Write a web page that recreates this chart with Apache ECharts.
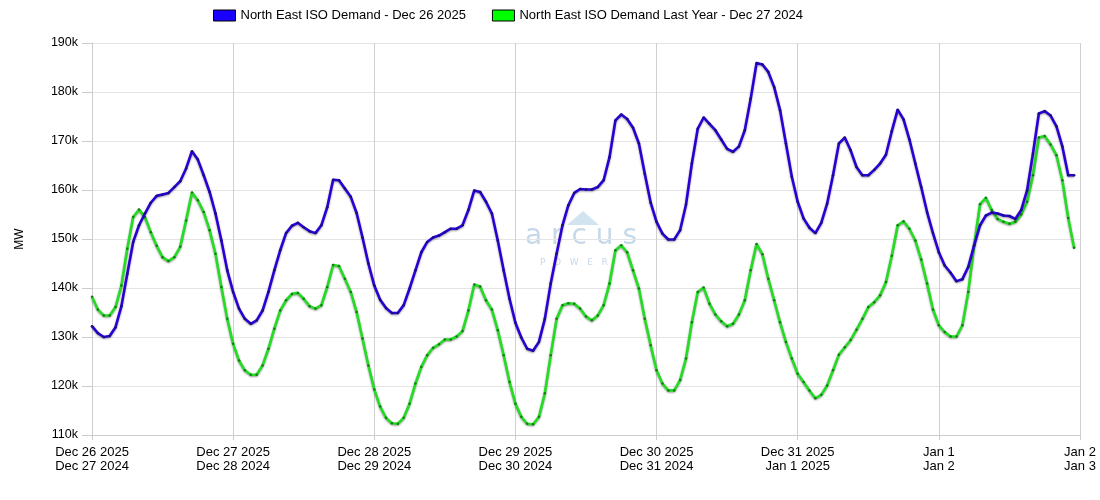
<!DOCTYPE html>
<html>
<head>
<meta charset="utf-8">
<script src="https://cdn.jsdelivr.net/npm/echarts@6/dist/echarts.min.js"></script>
<style>
html,body{margin:0;padding:0;background:#fff;}
#chart{width:1100px;height:500px;}
</style>
</head>
<body>
<div id="chart"></div>
<script>
// Hourly demand (thousand MW), starting Dec 26 2025 00:00
const demand2025 = [
132.2,130.8,130.0,130.2,132.0,136.3,142.9,149.4,152.8,155.2,157.4,158.8,159.1,159.4,160.6,161.8,164.4,167.9,166.2,163.0,159.6,155.2,149.7,143.6,
139.2,135.8,133.7,132.7,133.4,135.4,139.2,143.6,147.7,151.2,152.7,153.3,152.4,151.6,151.2,152.8,156.5,162.1,162.0,160.3,158.6,155.3,150.3,145.0,
140.5,137.6,135.9,134.9,134.9,136.5,139.9,143.6,147.3,149.4,150.3,150.7,151.4,152.1,152.1,152.8,155.9,159.9,159.6,157.6,155.2,149.7,143.6,137.8,
132.9,129.9,127.6,127.2,129.0,133.7,140.9,147.0,152.8,156.9,159.4,160.2,160.1,160.1,160.6,162.0,166.7,174.2,175.4,174.5,172.7,169.5,163.3,157.4,
153.5,151.1,149.9,149.9,151.8,157.0,165.4,172.5,174.8,173.5,172.2,170.3,168.4,167.8,168.9,172.2,178.6,185.9,185.6,184.1,181.0,176.3,169.5,162.7,
157.6,154.2,152.3,151.2,153.3,157.2,163.0,169.5,170.7,168.1,164.7,163.0,163.0,164.1,165.4,167.2,172.0,176.4,174.4,170.3,165.4,160.6,155.5,151.2,
147.3,144.6,143.1,141.4,141.8,144.3,148.7,152.8,154.8,155.4,155.2,154.8,154.7,154.1,155.9,159.9,167.4,175.6,176.1,175.2,173.0,168.9,163.0,163.0
];
// Hourly demand (thousand MW), starting Dec 27 2024 00:00
const demand2024 = [
138.2,135.6,134.4,134.4,136.1,140.5,148.0,154.5,156.0,154.5,151.4,148.6,146.3,145.5,146.3,148.4,153.8,159.5,157.9,155.5,151.8,147.0,140.2,133.7,
128.6,125.2,123.2,122.3,122.3,124.2,127.6,131.7,135.4,137.5,138.8,139.0,137.8,136.3,135.8,136.5,140.2,144.7,144.5,141.9,139.2,135.1,129.7,124.2,
119.3,115.8,113.5,112.4,112.3,113.5,116.4,120.5,123.9,126.3,127.8,128.5,129.5,129.5,130.1,131.2,135.4,140.7,140.3,137.5,135.6,131.4,126.3,120.8,
116.4,113.7,112.3,112.2,113.7,118.5,126.3,133.7,136.5,136.9,136.8,135.8,134.2,133.4,134.4,136.5,140.9,147.7,148.7,147.3,143.6,139.9,133.7,128.3,
123.2,120.5,119.1,119.1,121.2,125.6,133.0,139.2,140.1,136.8,134.6,133.2,132.2,132.7,134.6,137.5,143.6,149.0,146.9,141.9,137.5,133.0,129.0,125.6,
122.5,120.8,119.1,117.5,118.2,120.1,123.2,126.4,127.9,129.4,131.5,133.7,136.1,137.1,138.5,141.2,146.6,152.8,153.6,152.1,149.7,145.8,140.9,135.6,
132.4,131.0,130.1,130.1,132.4,139.2,148.7,157.1,158.4,155.9,154.1,153.5,153.1,153.5,155.0,157.6,163.0,170.7,171.0,169.3,167.1,162.0,154.3,148.2
];
const xTickLabels = [
  'Dec 26 2025\nDec 27 2024',
  'Dec 27 2025\nDec 28 2024',
  'Dec 28 2025\nDec 29 2024',
  'Dec 29 2025\nDec 30 2024',
  'Dec 30 2025\nDec 31 2024',
  'Dec 31 2025\nJan 1 2025',
  'Jan 1\nJan 2',
  'Jan 2\nJan 3'
];
const seriesNames = [
  'North East ISO Demand - Dec 26 2025',
  'North East ISO Demand Last Year - Dec 27 2024'
];

const chart = echarts.init(document.getElementById('chart'), null, {renderer: 'canvas'});
const toPts = arr => arr.map((v, i) => [i, v]);
const font = 'Liberation Sans, Arial, sans-serif';

chart.setOption({
  animation: false,
  backgroundColor: '#fff',
  textStyle: {fontFamily: font},
  grid: {left: 92, right: 20, top: 43, bottom: 65},
  legend: {
    left: 208, top: 4,
    itemWidth: 22, itemHeight: 11, itemGap: 26,
    textStyle: {fontSize: 13, color: '#000', fontFamily: font},
    data: [
      {name: seriesNames[0], icon: 'rect', itemStyle: {color: '#1a00ff', borderColor: '#000', borderWidth: 1}},
      {name: seriesNames[1], icon: 'rect', itemStyle: {color: '#00ff00', borderColor: '#000', borderWidth: 1}}
    ]
  },
  graphic: [
    {type: 'polygon', silent: true, z: 0,
      shape: {points: [[583, 211], [599, 225], [567, 225]]},
      style: {fill: '#d3e4f1'}},
    {type: 'text', silent: true, z: 0, left: 525, top: 223,
      style: {text: 'a r c u s', font: '28px "DejaVu Sans", sans-serif', fill: '#c6d9ea'}},
    {type: 'text', silent: true, z: 0, left: 540, top: 258,
      style: {text: 'P   O   W   E   R', font: '9px "DejaVu Sans", sans-serif', fill: '#c6d9ea'}}
  ],
  xAxis: {
    type: 'value', min: 0, max: 168, interval: 24,
    axisLine: {show: true, lineStyle: {color: '#ccc'}},
    axisTick: {show: true, length: 5, lineStyle: {color: '#ccc'}},
    splitLine: {show: true, lineStyle: {color: '#d0d0d0'}},
    axisLabel: {
      color: '#000', fontSize: 13, lineHeight: 14, margin: 10, fontFamily: font,
      showMinLabel: true, showMaxLabel: true,
      formatter: v => xTickLabels[Math.round(v / 24)] || ''
    }
  },
  yAxis: {
    type: 'value', min: 110, max: 190, interval: 10,
    name: 'MW', nameLocation: 'middle', nameGap: 66,
    nameTextStyle: {color: '#000', fontSize: 12, fontFamily: font},
    axisLine: {show: true, lineStyle: {color: '#ccc'}},
    axisTick: {show: true, length: 10, lineStyle: {color: '#ccc'}},
    splitLine: {show: true, lineStyle: {color: '#e4e4e4'}},
    axisLabel: {color: '#000', fontSize: 12.5, margin: 14, fontFamily: font, formatter: v => v + 'k'}
  },
  series: [
    {
      name: seriesNames[0], type: 'line', data: toPts(demand2025),
      symbol: 'circle', symbolSize: 2.5, showSymbol: true,
      itemStyle: {color: '#15107a'},
      lineStyle: {color: '#2a00d6', width: 2.6, shadowColor: 'rgba(0,0,0,0.4)', shadowBlur: 2, shadowOffsetY: 1},
      z: 3
    },
    {
      name: seriesNames[1], type: 'line', data: toPts(demand2024),
      symbol: 'circle', symbolSize: 2.5, showSymbol: true,
      itemStyle: {color: '#157a15'},
      lineStyle: {color: '#22dd22', width: 2.6, shadowColor: 'rgba(0,0,0,0.4)', shadowBlur: 2, shadowOffsetY: 1},
      z: 2
    }
  ]
});
</script>
</body>
</html>
